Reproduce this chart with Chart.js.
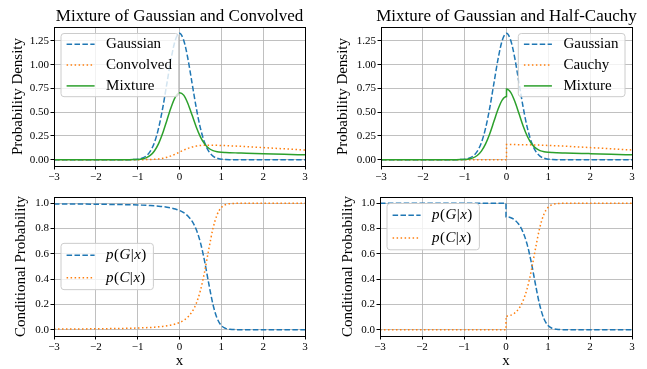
<!DOCTYPE html>
<html><head><meta charset="utf-8">
<script src="https://cdn.jsdelivr.net/npm/chart.js@4.4.0/dist/chart.umd.min.js"></script>
<style>
html,body{margin:0;padding:0;background:#fff;}
#wrap{position:relative;width:647px;height:369px;overflow:hidden;background:#fff;}
#wrap canvas{position:absolute;left:0;top:0;}
</style></head><body>
<div id="wrap">
<canvas id="c1" width="647" height="369"></canvas>
<canvas id="c2" width="647" height="369"></canvas>
<canvas id="c3" width="647" height="369"></canvas>
<canvas id="c4" width="647" height="369"></canvas>
</div>
<script>
// ---------------- data ----------------
const X_GRID = [-3, -2.5, -2, -1.5, -1.2, -1.1, -1.0, -0.9, -0.8, -0.7, -0.6, -0.5, -0.4, -0.3, -0.2, -0.1, 0,
  0.1, 0.2, 0.3, 0.4, 0.5, 0.6, 0.7, 0.8, 0.9, 1.0, 1.1, 1.2, 1.4, 1.6, 1.8, 2.0, 2.5, 3.0];
const X_SPLIT = [-3, -2.5, -2, -1.5, -1.2, -1.1, -1.0, -0.9, -0.8, -0.7, -0.6, -0.5, -0.4, -0.3, -0.2, -0.1, 0,
  0, 0.1, 0.2, 0.3, 0.4, 0.5, 0.6, 0.7, 0.8, 0.9, 1.0, 1.1, 1.2, 1.4, 1.6, 1.8, 2.0, 2.5, 3.0];

const GAUSSIAN = [0, 0, 0, 0, 0.0004, 0.0016, 0.0051, 0.0148, 0.0380, 0.0874, 0.1800, 0.3317, 0.5467, 0.8066, 1.0648, 1.2579,
  1.3298,
  1.2579, 1.0648, 0.8066, 0.5467, 0.3317, 0.1800, 0.0874, 0.0380, 0.0148, 0.0051, 0.0016, 0.0004, 0, 0, 0, 0, 0, 0];
const CONVOLVED = [0, 0, 0, 0, 0, 0, 0.0001, 0.0002, 0.0006, 0.0016, 0.0036, 0.0076, 0.0145, 0.0253, 0.0402, 0.0588,
  0.0795,
  0.1003, 0.1187, 0.1332, 0.1432, 0.1492, 0.1522, 0.1529, 0.1524, 0.1513, 0.1497, 0.1480, 0.1460, 0.1418, 0.1372, 0.1324, 0.1273, 0.1144, 0.1019];
const MIXTURE_CONV = [0, 0, 0, 0, 0.0002, 0.0008, 0.0026, 0.0075, 0.0193, 0.0445, 0.0918, 0.1697, 0.2806, 0.4160, 0.5525, 0.6584,
  0.7047,
  0.6791, 0.5918, 0.4699, 0.3450, 0.2405, 0.1661, 0.1202, 0.0952, 0.0831, 0.0774, 0.0748, 0.0732, 0.0709, 0.0686, 0.0662, 0.0637, 0.0572, 0.0510];
const P_G_CONV = [0.9953, 0.9943, 0.9929, 0.9906, 0.9888, 0.9879, 0.9869, 0.9857, 0.9842, 0.9824, 0.9803, 0.9776, 0.9742, 0.9697, 0.9636, 0.9553,
  0.9436,
  0.9262, 0.8997, 0.8583, 0.7925, 0.6899, 0.5418, 0.3637, 0.1996, 0.0891, 0.0332, 0.0107, 0.0030, 0.0002, 0, 0, 0, 0, 0];
const P_C_CONV = [0.0047, 0.0057, 0.0071, 0.0094, 0.0112, 0.0121, 0.0131, 0.0143, 0.0158, 0.0176, 0.0197, 0.0224, 0.0258, 0.0303, 0.0364, 0.0447,
  0.0564,
  0.0738, 0.1003, 0.1417, 0.2075, 0.3101, 0.4582, 0.6363, 0.8004, 0.9109, 0.9668, 0.9893, 0.9970, 0.9998, 1, 1, 1, 1, 1];

const CAUCHY = [0, 0, 0, 0, 0, 0, 0, 0, 0, 0, 0, 0, 0, 0, 0, 0, 0,
  0.1592, 0.1591, 0.1588, 0.1583, 0.1576, 0.1567, 0.1557, 0.1544, 0.1530, 0.1515, 0.1498, 0.1480, 0.1460, 0.1418, 0.1372, 0.1324, 0.1273, 0.1144, 0.1019];
const MIXTURE_CAUCHY = [0, 0, 0, 0, 0.0002, 0.0008, 0.0026, 0.0074, 0.0190, 0.0437, 0.0900, 0.1659, 0.2734, 0.4033, 0.5324, 0.6290, 0.6649,
  0.7445, 0.7085, 0.6118, 0.4825, 0.3522, 0.2442, 0.1679, 0.1209, 0.0955, 0.0832, 0.0775, 0.0748, 0.0732, 0.0709, 0.0686, 0.0662, 0.0637, 0.0572, 0.0510];
const P_G_CAUCHY = [1, 1, 1, 1, 1, 1, 1, 1, 1, 1, 1, 1, 1, 1, 1, 1, 1,
  0.8931, 0.8877, 0.8702, 0.8360, 0.7762, 0.6792, 0.5362, 0.3615, 0.1990, 0.0889, 0.0332, 0.0107, 0.0031, 0.0002, 0, 0, 0, 0, 0];
const P_C_CAUCHY = [0, 0, 0, 0, 0, 0, 0, 0, 0, 0, 0, 0, 0, 0, 0, 0, 0,
  0.1069, 0.1123, 0.1298, 0.1640, 0.2238, 0.3208, 0.4638, 0.6385, 0.8010, 0.9111, 0.9668, 0.9893, 0.9969, 0.9998, 1, 1, 1, 1, 1];

const X_TICKS = [-3, -2, -1, 0, 1, 2, 3];
const Y_TICKS_DENSITY = [0, 0.25, 0.5, 0.75, 1.0, 1.25];
const Y_TICKS_PROB = [0, 0.2, 0.4, 0.6, 0.8, 1.0];

const TITLES = ['Mixture of Gaussian and Convolved', 'Mixture of Gaussian and Half-Cauchy'];
const LABELS_CONV = ['Gaussian', 'Convolved', 'Mixture'];
const LABELS_CAUCHY = ['Gaussian', 'Cauchy', 'Mixture'];
const LABELS_COND = ['p(G|x)', 'p(C|x)'];
const Y_TITLES = ['Probability Density', 'Conditional Probability'];
const X_TITLE = 'x';

// ---------------- styling ----------------
const FONT = "'Liberation Serif', 'Times New Roman', serif";
const BLUE = '#1f77b4', ORANGE = '#ff7f0e', GREEN = '#2ca02c';
const DASH = [5.5, 2.4], DOT = [1.5, 2.5];
const YW = 50; // fixed y-scale width

function pts(xs, ys) { return xs.map((x, i) => ({x: x, y: ys[i]})); }
function fmtNum(v, d) { const s = Math.abs(v).toFixed(d); return v < 0 ? '\u2212' + s : s; }

function ds(label, xs, ys, color, dash, order) {
  return {label, data: pts(xs, ys), borderColor: color, backgroundColor: color, borderWidth: 1.5,
    borderDash: dash, pointRadius: 0, fill: false, cubicInterpolationMode: 'monotone', order: order};
}

function drawLabel(ctx, text, math, x, y, size) {
  if (!math) { ctx.font = size + 'px ' + FONT; ctx.fillText(text, x, y); return ctx.measureText(text).width; }
  let tx = x;
  for (const ch of text) {
    ctx.font = (/[A-Za-z]/.test(ch) ? 'italic ' : '') + size + 'px ' + FONT;
    ctx.fillText(ch, tx, y);
    tx += ctx.measureText(ch).width + (/[()|]/.test(ch) ? 0.6 : 0.3);
  }
  return tx - x;
}
function measureLabel(ctx, text, math, size) {
  ctx.save(); ctx.globalAlpha = 0;
  const w = drawLabel(ctx, text, math, -1000, -1000, size);
  ctx.restore(); return w;
}

const deco = {
  id: 'deco',
  afterDraw(chart, args, o) {
    const {ctx, chartArea: a} = chart;
    ctx.save();
    // frame (all four spines)
    ctx.strokeStyle = '#000'; ctx.lineWidth = 1;
    ctx.strokeRect(Math.round(a.left) + 0.5, Math.round(a.top) + 0.5, Math.round(a.right) - Math.round(a.left), Math.round(a.bottom) - Math.round(a.top));
    // plot title
    if (o.title) {
      ctx.font = '17px ' + FONT; ctx.fillStyle = '#000'; ctx.textAlign = 'center'; ctx.textBaseline = 'alphabetic';
      ctx.fillText(o.title, (a.left + a.right) / 2, a.top - 6.5);
    }
    // legend
    const L = o.legend;
    if (L) {
      const size = 15, pad = 5.6, handle = 28, gap = 11.5;
      const items = chart.data.datasets.map(d => d);
      let tw = 0;
      items.forEach(d => { tw = Math.max(tw, measureLabel(ctx, d.label, L.math, size)); });
      const w = pad + handle + gap + tw + pad + 1;
      const h = L.first * 2 + L.pitch * (items.length - 1);
      const x0 = L.align === 'right' ? a.right - 7 - w : a.left + 7;
      const y0 = L.vcenter ? (a.top + a.bottom) / 2 - h / 2 : a.top + 6.5;
      // box
      const r = 3;
      ctx.beginPath();
      ctx.moveTo(x0 + r, y0); ctx.lineTo(x0 + w - r, y0); ctx.arcTo(x0 + w, y0, x0 + w, y0 + r, r);
      ctx.lineTo(x0 + w, y0 + h - r); ctx.arcTo(x0 + w, y0 + h, x0 + w - r, y0 + h, r);
      ctx.lineTo(x0 + r, y0 + h); ctx.arcTo(x0, y0 + h, x0, y0 + h - r, r);
      ctx.lineTo(x0, y0 + r); ctx.arcTo(x0, y0, x0 + r, y0, r); ctx.closePath();
      ctx.fillStyle = 'rgba(255,255,255,0.8)'; ctx.fill();
      ctx.strokeStyle = '#cccccc'; ctx.lineWidth = 1; ctx.stroke();
      items.forEach((d, i) => {
        const yy = y0 + L.first + i * L.pitch;
        ctx.beginPath(); ctx.setLineDash(d.borderDash || []); ctx.strokeStyle = d.borderColor; ctx.lineWidth = d.borderWidth;
        ctx.moveTo(x0 + pad, yy); ctx.lineTo(x0 + pad + handle, yy); ctx.stroke();
        ctx.setLineDash([]);
        ctx.fillStyle = '#000'; ctx.textAlign = 'left'; ctx.textBaseline = 'middle';
        drawLabel(ctx, d.label, L.math, x0 + pad + handle + gap, yy, size);
      });
    }
    ctx.restore();
  }
};

function makeChart(id, cfg) {
  const a = cfg.area; // [left, top, right, bottom]
  const XH = cfg.xTitle ? 369 - a[3] : 20;
  return new Chart(document.getElementById(id), {
    type: 'line',
    data: {datasets: cfg.datasets},
    plugins: [deco],
    options: {
      responsive: false, animation: false, devicePixelRatio: 1, events: [],
      layout: {padding: {left: a[0] - YW, top: a[1], right: 647 - a[2], bottom: 369 - a[3] - XH}},
      plugins: {
        legend: {display: false}, tooltip: {enabled: false}, title: {display: false},
        deco: {title: cfg.title, legend: cfg.legend}
      },
      scales: {
        x: {
          type: 'linear', min: -3, max: 3,
          afterFit: s => { s.height = XH; },
          afterBuildTicks: s => { s.ticks = X_TICKS.map(v => ({value: v})); },
          ticks: {autoSkip: false, maxRotation: 0, padding: 1, color: '#000',
            font: {family: FONT, size: 11}, callback: v => fmtNum(v, 0)},
          grid: {color: '#b0b0b0', lineWidth: 0.8, drawTicks: true, tickLength: 3.5, tickColor: '#000', tickWidth: 1},
          border: {display: true, color: '#000', width: 1},
          title: cfg.xTitle ? {display: true, text: cfg.xTitle, color: '#000',
            font: {family: FONT, size: 15, lineHeight: 1}, padding: {top: 0, bottom: 0.5}} : {display: false}
        },
        y: {
          type: 'linear', min: cfg.yMin, max: cfg.yMax,
          afterFit: s => { s.width = YW; },
          afterBuildTicks: s => { s.ticks = cfg.yTicks.map(v => ({value: v})); },
          ticks: {autoSkip: false, padding: 1.5, color: '#000',
            font: {family: FONT, size: 11}, callback: v => fmtNum(v, cfg.yDigits)},
          grid: {color: '#b0b0b0', lineWidth: 0.8, drawTicks: true, tickLength: 3.5, tickColor: '#000', tickWidth: 1},
          border: {display: true, color: '#000', width: 1},
          title: {display: true, text: cfg.yTitle, color: '#000',
            font: {family: FONT, size: 15, lineHeight: 1.2}, padding: {top: cfg.yTitlePad, bottom: 0}}
        }
      }
    }
  });
}

makeChart('c1', {
  area: [54, 27, 305, 166], yMin: -0.0665, yMax: 1.3965, yTicks: Y_TICKS_DENSITY, yDigits: 2,
  yTitle: Y_TITLES[0], yTitlePad: 5.5, title: TITLES[0],
  legend: {align: 'left', math: false, first: 10.8, pitch: 20.8},
  datasets: [
    ds(LABELS_CONV[0], X_GRID, GAUSSIAN, BLUE, DASH, 3),
    ds(LABELS_CONV[1], X_GRID, CONVOLVED, ORANGE, DOT, 2),
    ds(LABELS_CONV[2], X_GRID, MIXTURE_CONV, GREEN, [], 1)
  ]
});
makeChart('c2', {
  area: [381, 27, 632, 166], yMin: -0.0665, yMax: 1.3965, yTicks: Y_TICKS_DENSITY, yDigits: 2,
  yTitle: Y_TITLES[0], yTitlePad: 3.2, title: TITLES[1],
  legend: {align: 'right', math: false, first: 10.8, pitch: 20.8},
  datasets: [
    ds(LABELS_CAUCHY[0], X_GRID, GAUSSIAN, BLUE, DASH, 3),
    ds(LABELS_CAUCHY[1], X_SPLIT, CAUCHY, ORANGE, DOT, 2),
    ds(LABELS_CAUCHY[2], X_SPLIT, MIXTURE_CAUCHY, GREEN, [], 1)
  ]
});
makeChart('c3', {
  area: [54, 197, 305, 336], yMin: -0.05, yMax: 1.05, yTicks: Y_TICKS_PROB, yDigits: 1,
  yTitle: Y_TITLES[1], yTitlePad: 8.5, xTitle: X_TITLE,
  legend: {align: 'left', vcenter: true, math: true, first: 11.8, pitch: 22.7},
  datasets: [
    ds(LABELS_COND[0], X_GRID, P_G_CONV, BLUE, DASH, 2),
    ds(LABELS_COND[1], X_GRID, P_C_CONV, ORANGE, DOT, 1)
  ]
});
makeChart('c4', {
  area: [380, 197, 632, 336], yMin: -0.05, yMax: 1.05, yTicks: Y_TICKS_PROB, yDigits: 1,
  yTitle: Y_TITLES[1], yTitlePad: 9.2, xTitle: X_TITLE,
  legend: {align: 'left', math: true, first: 11.8, pitch: 22.7},
  datasets: [
    ds(LABELS_COND[0], X_SPLIT, P_G_CAUCHY, BLUE, DASH, 2),
    ds(LABELS_COND[1], X_SPLIT, P_C_CAUCHY, ORANGE, DOT, 1)
  ]
});
</script>
</body></html>
